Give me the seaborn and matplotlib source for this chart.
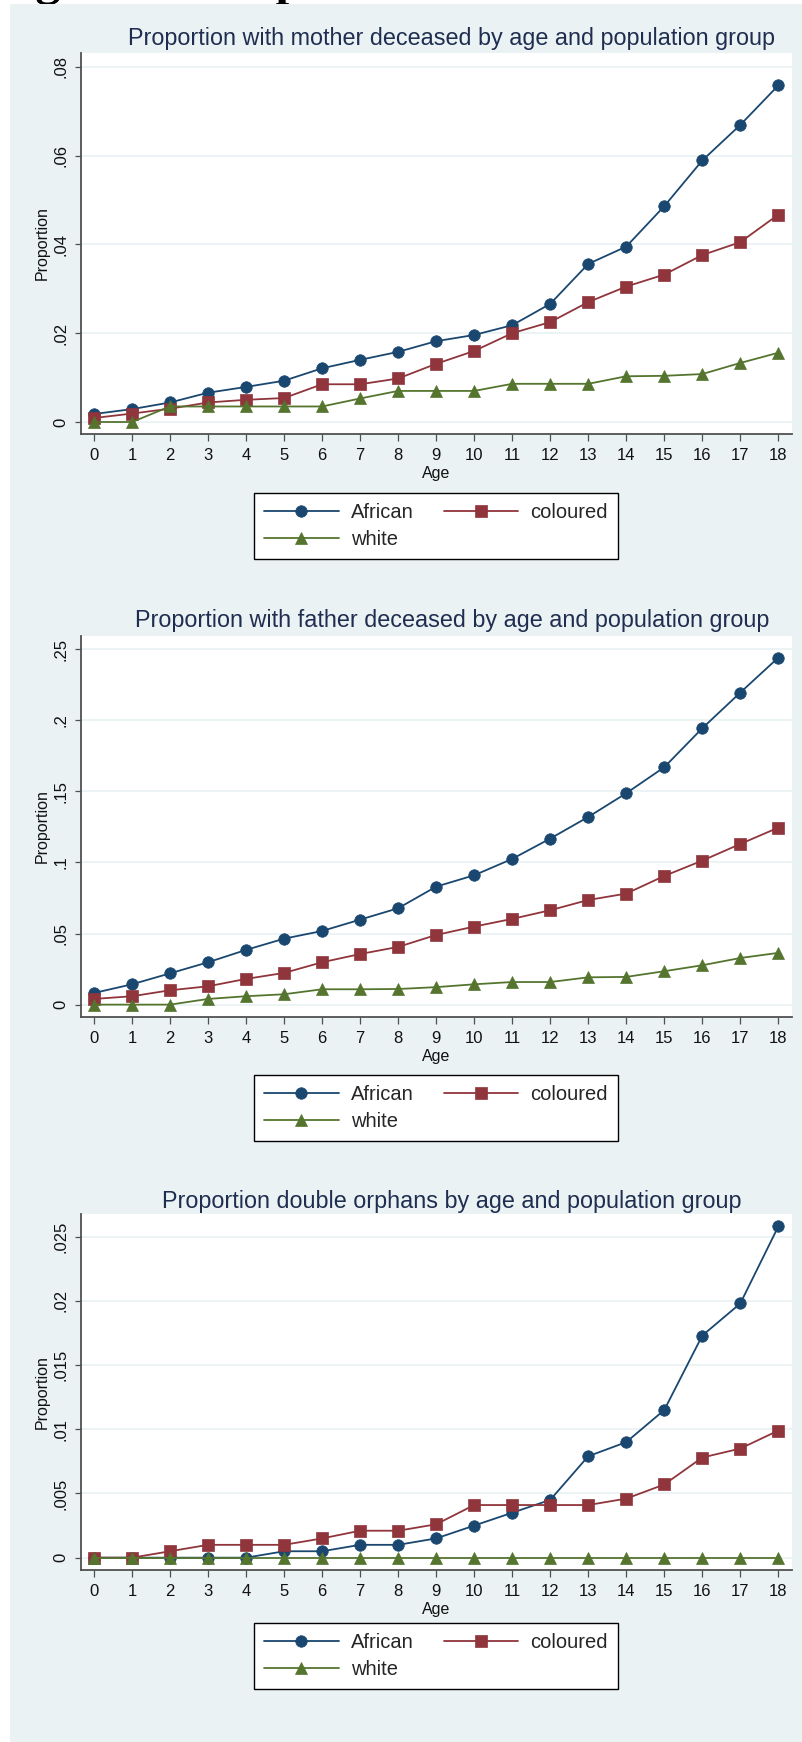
import matplotlib
matplotlib.use("Agg")
import matplotlib.pyplot as plt
import pandas as pd
import seaborn as sns
from matplotlib.patches import Rectangle

# ---- data ----
ages = list(range(19))
groups = ["African", "coloured", "white"]

mother_african = [0.0018, 0.0029, 0.0044, 0.0066, 0.0079, 0.0093, 0.0121, 0.0140, 0.0158, 0.0182,
                  0.0196, 0.0218, 0.0266, 0.0356, 0.0395, 0.0486, 0.0589, 0.0669, 0.0758]
mother_coloured = [0.0009, 0.0019, 0.0030, 0.0044, 0.0050, 0.0054, 0.0085, 0.0085, 0.0098, 0.0131,
                   0.0160, 0.0200, 0.0225, 0.0270, 0.0305, 0.0332, 0.0376, 0.0405, 0.0467]
mother_white = [0.0, 0.0, 0.0035, 0.0035, 0.0035, 0.0035, 0.0035, 0.0053, 0.0070, 0.0070,
                0.0070, 0.0086, 0.0086, 0.0086, 0.0103, 0.0104, 0.0108, 0.0133, 0.0156]

father_african = [0.0082, 0.0143, 0.0220, 0.0298, 0.0385, 0.0464, 0.0518, 0.0598, 0.0678, 0.0830,
                  0.0910, 0.1025, 0.1168, 0.1320, 0.1487, 0.1670, 0.1944, 0.2195, 0.2441]
father_coloured = [0.0040, 0.0059, 0.0101, 0.0129, 0.0181, 0.0223, 0.0298, 0.0356, 0.0406, 0.0490,
                   0.0549, 0.0603, 0.0664, 0.0736, 0.0781, 0.0905, 0.1013, 0.1130, 0.1245]
father_white = [0.0, 0.0, 0.0, 0.0040, 0.0059, 0.0073, 0.0108, 0.0108, 0.0110, 0.0123,
                0.0143, 0.0159, 0.0159, 0.0192, 0.0195, 0.0235, 0.0277, 0.0328, 0.0364]

double_african = [0.0, 0.0, 0.0, 0.0, 0.0, 0.0005, 0.0005, 0.0010, 0.0010, 0.0015,
                  0.0025, 0.0035, 0.0045, 0.0079, 0.0090, 0.0115, 0.0173, 0.0198, 0.0258]
double_coloured = [0.0, 0.0, 0.0005, 0.0010, 0.0010, 0.0010, 0.0015, 0.0021, 0.0021, 0.0026,
                   0.0041, 0.0041, 0.0041, 0.0041, 0.0046, 0.0057, 0.0078, 0.0085, 0.0099]
double_white = [0.0, 0.0, 0.0, 0.0, 0.0, 0.0, 0.0, 0.0, 0.0, 0.0,
                0.0, 0.0, 0.0, 0.0, 0.0, 0.0, 0.0, 0.0, 0.0]

mother_yticks = [0, 0.02, 0.04, 0.06, 0.08]
father_yticks = [0, 0.05, 0.10, 0.15, 0.20, 0.25]
double_yticks = [0, 0.005, 0.010, 0.015, 0.020, 0.025]

titles = ["Proportion with mother deceased by age and population group",
          "Proportion with father deceased by age and population group",
          "Proportion double orphans by age and population group"]
caption = "Figure 3: Proportion of children whose mother or father is deceased"

# ---- style ----
W, H = 803, 1742
BG = "#EAF2F3"
AXC = "#505050"
TXT = "#1F2D50"
palette = {"African": "#1A476F", "coloured": "#90353B", "white": "#55752F"}
markers = {"African": "o", "coloured": "s", "white": "^"}

sns.set_theme(style="white")
plt.rcParams["font.family"] = ["Liberation Sans", "DejaVu Sans"]


def fx(x):
    return x / W


def fy(y):
    return 1 - y / H


def fmt(v):
    if v == 0:
        return "0"
    return ("%g" % v).lstrip("0")


# pixel layout of each panel: plot top, plot bottom, title baseline, legend top, ylim
layout = [
    dict(top=53, bottom=434, title_y=45, leg_top=493, ylim=(-0.0027, 0.0831)),
    dict(top=636, bottom=1017, title_y=627, leg_top=1075, ylim=(-0.0087, 0.2593)),
    dict(top=1214, bottom=1570, title_y=1208, leg_top=1623, ylim=(-0.00096, 0.02677)),
]
series = [
    (mother_african, mother_coloured, mother_white, mother_yticks),
    (father_african, father_coloured, father_white, father_yticks),
    (double_african, double_coloured, double_white, double_yticks),
]

fig = plt.figure(figsize=(W / 100, H / 100), dpi=100)
fig.patch.set_facecolor("white")
fig.add_artist(Rectangle((fx(10), 0), fx(793), 1 - 4 / H, transform=fig.transFigure,
                         facecolor=BG, edgecolor="none", zorder=-1))

# caption of the page above, cut off at the top edge (only descenders show)
fig.text(fx(-9), fy(5), caption, family=["Liberation Serif"], weight="bold",
         fontsize=36, color="black", ha="left", va="bottom", zorder=-2)

for lay, (afr, col, wht, yt), title in zip(layout, series, titles):
    ax = fig.add_axes([fx(81), fy(lay["bottom"]), fx(792 - 81),
                       (lay["bottom"] - lay["top"]) / H])
    df = pd.DataFrame({
        "age": ages * 3,
        "value": afr + col + wht,
        "group": ["African"] * 19 + ["coloured"] * 19 + ["white"] * 19,
    })
    sns.lineplot(data=df, x="age", y="value", hue="group", style="group",
                 hue_order=groups, style_order=groups, palette=palette,
                 markers=markers, dashes=False, linewidth=1.3, markersize=8.3,
                 ax=ax, legend=False)
    for ln in ax.lines:
        ln.set_markeredgecolor(ln.get_color())
        ln.set_markeredgewidth(0.5)
        ln.set_zorder(3)

    ax.set_facecolor("white")
    ax.set_xlim(-0.342, 18.36)
    ax.set_ylim(*lay["ylim"])
    ax.set_xticks(ages)
    ax.set_xticklabels([str(a) for a in ages])
    ax.set_yticks(yt)
    ax.set_yticklabels([fmt(v) for v in yt])
    ax.grid(axis="y", color=BG, linewidth=1.3)
    ax.grid(axis="x", visible=False)
    ax.set_axisbelow(True)
    for s in ["top", "right"]:
        ax.spines[s].set_visible(False)
    for s in ["left", "bottom"]:
        ax.spines[s].set_color(AXC)
        ax.spines[s].set_linewidth(1.3)
    ax.tick_params(axis="x", length=5, width=0.9, color=AXC, pad=5,
                   labelsize=12, labelcolor="#111111", bottom=True)
    ax.tick_params(axis="y", length=4, width=0.9, color=AXC, pad=5,
                   labelsize=12, labelcolor="#111111", left=True, labelrotation=90)
    for lab in ax.get_yticklabels():
        lab.set_va("center")
    ax.set_xlabel("Age", fontsize=11.5, labelpad=2.5, color="#111111")
    ax.set_ylabel("Proportion", fontsize=11.5, labelpad=2.5, color="#111111")

    fig.text(fx(452), fy(lay["title_y"]), title, ha="center", va="baseline",
             fontsize=16.8, color=TXT)

    h = ax.lines
    leg = ax.legend([h[0], h[2], h[1]], ["African", "white", "coloured"], ncol=2,
                    loc="upper center", bbox_to_anchor=(fx(436), fy(lay["leg_top"])),
                    bbox_transform=fig.transFigure, fontsize=14.5, frameon=True,
                    fancybox=False, edgecolor="black", framealpha=1,
                    handlelength=3.7, handletextpad=0.6, columnspacing=1.5,
                    labelspacing=0.4, borderpad=0.5, borderaxespad=0)
    leg.get_frame().set_linewidth(1.0)

fig.savefig("out.png", dpi=100)
